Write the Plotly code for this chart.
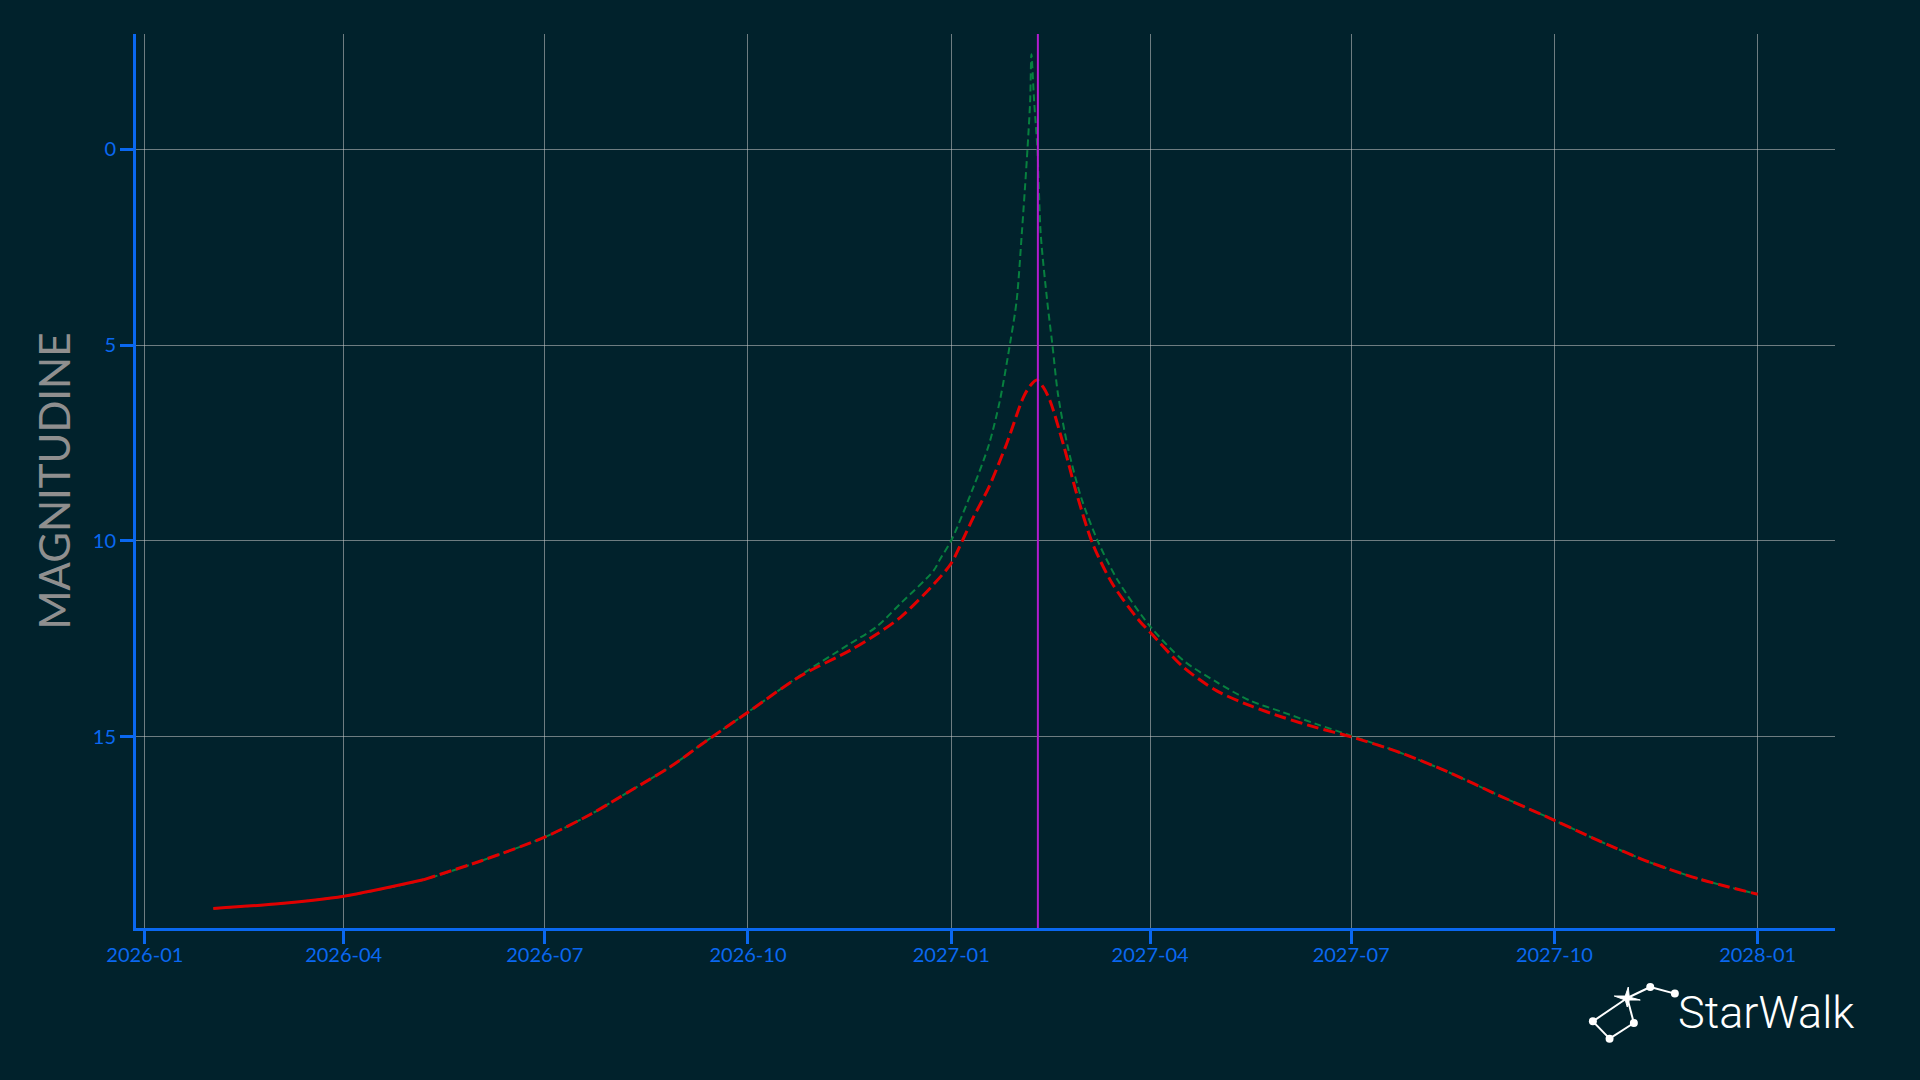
import plotly.graph_objects as go

# ---------------- data ----------------
red_dates = ["2026-02-01", "2026-03-01", "2026-04-01", "2026-05-07", "2026-06-03", "2026-07-01",
             "2026-07-22", "2026-08-09", "2026-08-27", "2026-09-11", "2026-10-01", "2026-10-25",
             "2026-11-16", "2026-11-28", "2026-12-09", "2026-12-24", "2027-01-01", "2027-01-06",
             "2027-01-11", "2027-01-18", "2027-01-26", "2027-02-02 14:00", "2027-02-05 17:00",
             "2027-02-08 17:00", "2027-02-11 17:00", "2027-02-14 17:00", "2027-02-20 17:00",
             "2027-02-26 19:00", "2027-03-06", "2027-03-15", "2027-03-27", "2027-04-01",
             "2027-04-16", "2027-05-01", "2027-05-16", "2027-05-31", "2027-06-15", "2027-07-01",
             "2027-07-23", "2027-08-14", "2027-09-06", "2027-10-01", "2027-10-21", "2027-11-13",
             "2027-12-05", "2028-01-01"]
red_mag = [19.38, 19.27, 19.07, 18.65, 18.15, 17.56,
           16.97, 16.37, 15.76, 15.15, 14.37, 13.44,
           12.80, 12.39, 11.95, 11.11, 10.57, 10.0,
           9.40, 8.63, 7.53, 6.34, 6.04,
           5.89, 6.08, 6.42, 7.53,
           8.80, 10.07, 11.1, 12.03, 12.33,
           13.22, 13.82, 14.2, 14.5, 14.76, 15.0,
           15.40, 15.9, 16.5, 17.13, 17.65, 18.2,
           18.62, 19.02]
observed_until = "2026-05-07"

green_dates = ["2026-02-01", "2026-03-01", "2026-04-01", "2026-05-07", "2026-06-03", "2026-07-01",
               "2026-07-22", "2026-08-09", "2026-08-27", "2026-09-11", "2026-10-01", "2026-10-25",
               "2026-11-16", "2026-11-28", "2026-12-09", "2026-12-24", "2026-12-27", "2027-01-01",
               "2027-01-11", "2027-01-18", "2027-01-23", "2027-01-27 14:00", "2027-01-30 14:00",
               "2027-02-01 22:00", "2027-02-04 12:00", "2027-02-05 17:00", "2027-02-06 07:00",
               "2027-02-07 12:00", "2027-02-09 00:00", "2027-02-10 12:00", "2027-02-13 10:00",
               "2027-02-15 19:00", "2027-02-18 07:00", "2027-02-22 19:00", "2027-02-28 19:00",
               "2027-03-08 07:00", "2027-03-17 10:00", "2027-04-01", "2027-04-16", "2027-05-01",
               "2027-05-16", "2027-05-31", "2027-06-15", "2027-07-01", "2027-07-23", "2027-08-14",
               "2027-09-06", "2027-10-01", "2027-10-21", "2027-11-13", "2027-12-05", "2028-01-01"]
green_mag = [19.38, 19.27, 19.07, 18.65, 18.15, 17.56,
             16.97, 16.37, 15.76, 15.15, 14.37, 13.42,
             12.63, 12.2, 11.6, 10.76, 10.46, 9.99,
             8.63, 7.55, 6.42, 4.97, 3.87,
             2.17, 0.0, -1.23, -2.42,
             -1.23, 0.0, 2.17, 3.87,
             5.0, 6.25, 7.61, 8.89,
             10.0, 11.01, 12.18, 13.05, 13.6,
             14.07, 14.37, 14.67, 14.97, 15.40, 15.9,
             16.5, 17.13, 17.65, 18.2, 18.62, 19.02]

perihelion_date = "2027-02-09 05:00"

x_ticks = ["2026-01-01", "2026-04-01", "2026-07-01", "2026-10-01", "2027-01-01",
           "2027-04-01", "2027-07-01", "2027-10-01", "2028-01-01"]
y_ticks = [0, 5, 10, 15]
x_range = ["2025-12-28", "2028-02-05"]
y_range = [19.88, -2.94]

# ---------------- style ----------------
BG = "#01222c"
BLUE = "#0a68f0"
GRID = "rgba(200,200,200,0.55)"
RED = "#e00000"
GREEN = "#07803f"
PURPLE = "#b21ccf"

L, R, T, B = 136, 84.5, 34, 152.3
W, H = 1920, 1080
PW, PH = W - L - R, H - T - B


def fx(px):
    return (px - L) / PW


def fy(py):
    return (H - B - py) / PH


fig = go.Figure()

fig.add_trace(go.Scatter(x=green_dates, y=green_mag, mode="lines",
                         line=dict(color=GREEN, width=2, dash="7px,4px", shape="spline", smoothing=0.8),
                         hoverinfo="skip", showlegend=False))

split = red_dates.index(observed_until)
fig.add_trace(go.Scatter(x=red_dates[:split + 1], y=red_mag[:split + 1], mode="lines",
                         line=dict(color=RED, width=3, shape="spline", smoothing=0.8),
                         hoverinfo="skip", showlegend=False))
fig.add_trace(go.Scatter(x=red_dates[split:], y=red_mag[split:], mode="lines",
                         line=dict(color=RED, width=3, dash="12px,5px", shape="spline", smoothing=0.8),
                         hoverinfo="skip", showlegend=False))

shapes = [dict(type="line", xref="x", yref="paper", x0=perihelion_date, x1=perihelion_date,
               y0=0, y1=1, line=dict(color=PURPLE, width=2), layer="above")]

# StarWalk logo (decorative)
pts = {"a": (1593.3, 1021), "b": (1610, 1038.3), "c": (1634.3, 1022.7),
       "s": (1627.7, 997.7), "d": (1650.7, 986.7), "e": (1675.3, 993.3)}
for p, q in [("a", "s"), ("s", "d"), ("d", "e"), ("a", "b"), ("b", "c"), ("c", "s")]:
    shapes.append(dict(type="line", xref="paper", yref="paper",
                       x0=fx(pts[p][0]), y0=fy(pts[p][1]), x1=fx(pts[q][0]), y1=fy(pts[q][1]),
                       line=dict(color="white", width=2)))
for k in ["a", "b", "c", "d", "e"]:
    cx, cy = pts[k]
    r = 4
    shapes.append(dict(type="circle", xref="paper", yref="paper",
                       x0=fx(cx - r), x1=fx(cx + r), y0=fy(cy + r), y1=fy(cy - r),
                       fillcolor="white", line=dict(color="white", width=0)))
sx, sy = pts["s"]
star = [(sx - 13, sy - 2), (sx - 2, sy - 2), (sx + 1, sy - 11), (sx + 2, sy - 1), (sx + 13, sy + 2),
        (sx + 2, sy + 2), (sx, sy + 9), (sx - 2, sy + 2)]
path = "M " + " L ".join(f"{fx(a):.5f},{fy(b):.5f}" for a, b in star) + " Z"
shapes.append(dict(type="path", xref="paper", yref="paper", path=path,
                   fillcolor="white", line=dict(color="white", width=1)))

fig.update_layout(
    width=W, height=H,
    paper_bgcolor=BG, plot_bgcolor=BG,
    margin=dict(l=L, r=R, t=T, b=B, autoexpand=False),
    font=dict(family="Lato", color=BLUE),
    shapes=shapes,
    annotations=[dict(text="StarWalk", xref="paper", yref="paper", x=fx(1676), y=fy(1012),
                      xanchor="left", yanchor="middle", showarrow=False,
                      font=dict(family="Roboto", size=45, color="white", weight=300))],
    xaxis=dict(type="date", range=x_range, tickvals=x_ticks, tickformat="%Y-%m",
               showgrid=True, gridcolor=GRID, gridwidth=1,
               showline=True, linecolor=BLUE, linewidth=3,
               ticks="outside", ticklen=13, tickwidth=3, tickcolor=BLUE,
               ticklabelstandoff=-6,
               tickfont=dict(family="Lato", size=20, color=BLUE), zeroline=False),
    yaxis=dict(range=y_range, tickvals=y_ticks, showgrid=True, gridcolor=GRID, gridwidth=1,
               showline=True, linecolor=BLUE, linewidth=3,
               ticks="outside", ticklen=13, tickwidth=3, tickcolor=BLUE,
               tickfont=dict(family="Lato", size=20, color=BLUE), zeroline=False,
               title=dict(text="MAGNITUDINE", font=dict(family="Lato", size=42, color="#8f8f8f"),
                          standoff=10)),
)

fig.write_html("out.html", config={"displayModeBar": False},
               post_script="document.body.style.margin='0';document.body.style.padding='0';"
                           "document.body.style.overflow='hidden';"
                           "document.body.style.background='" + BG + "';")
